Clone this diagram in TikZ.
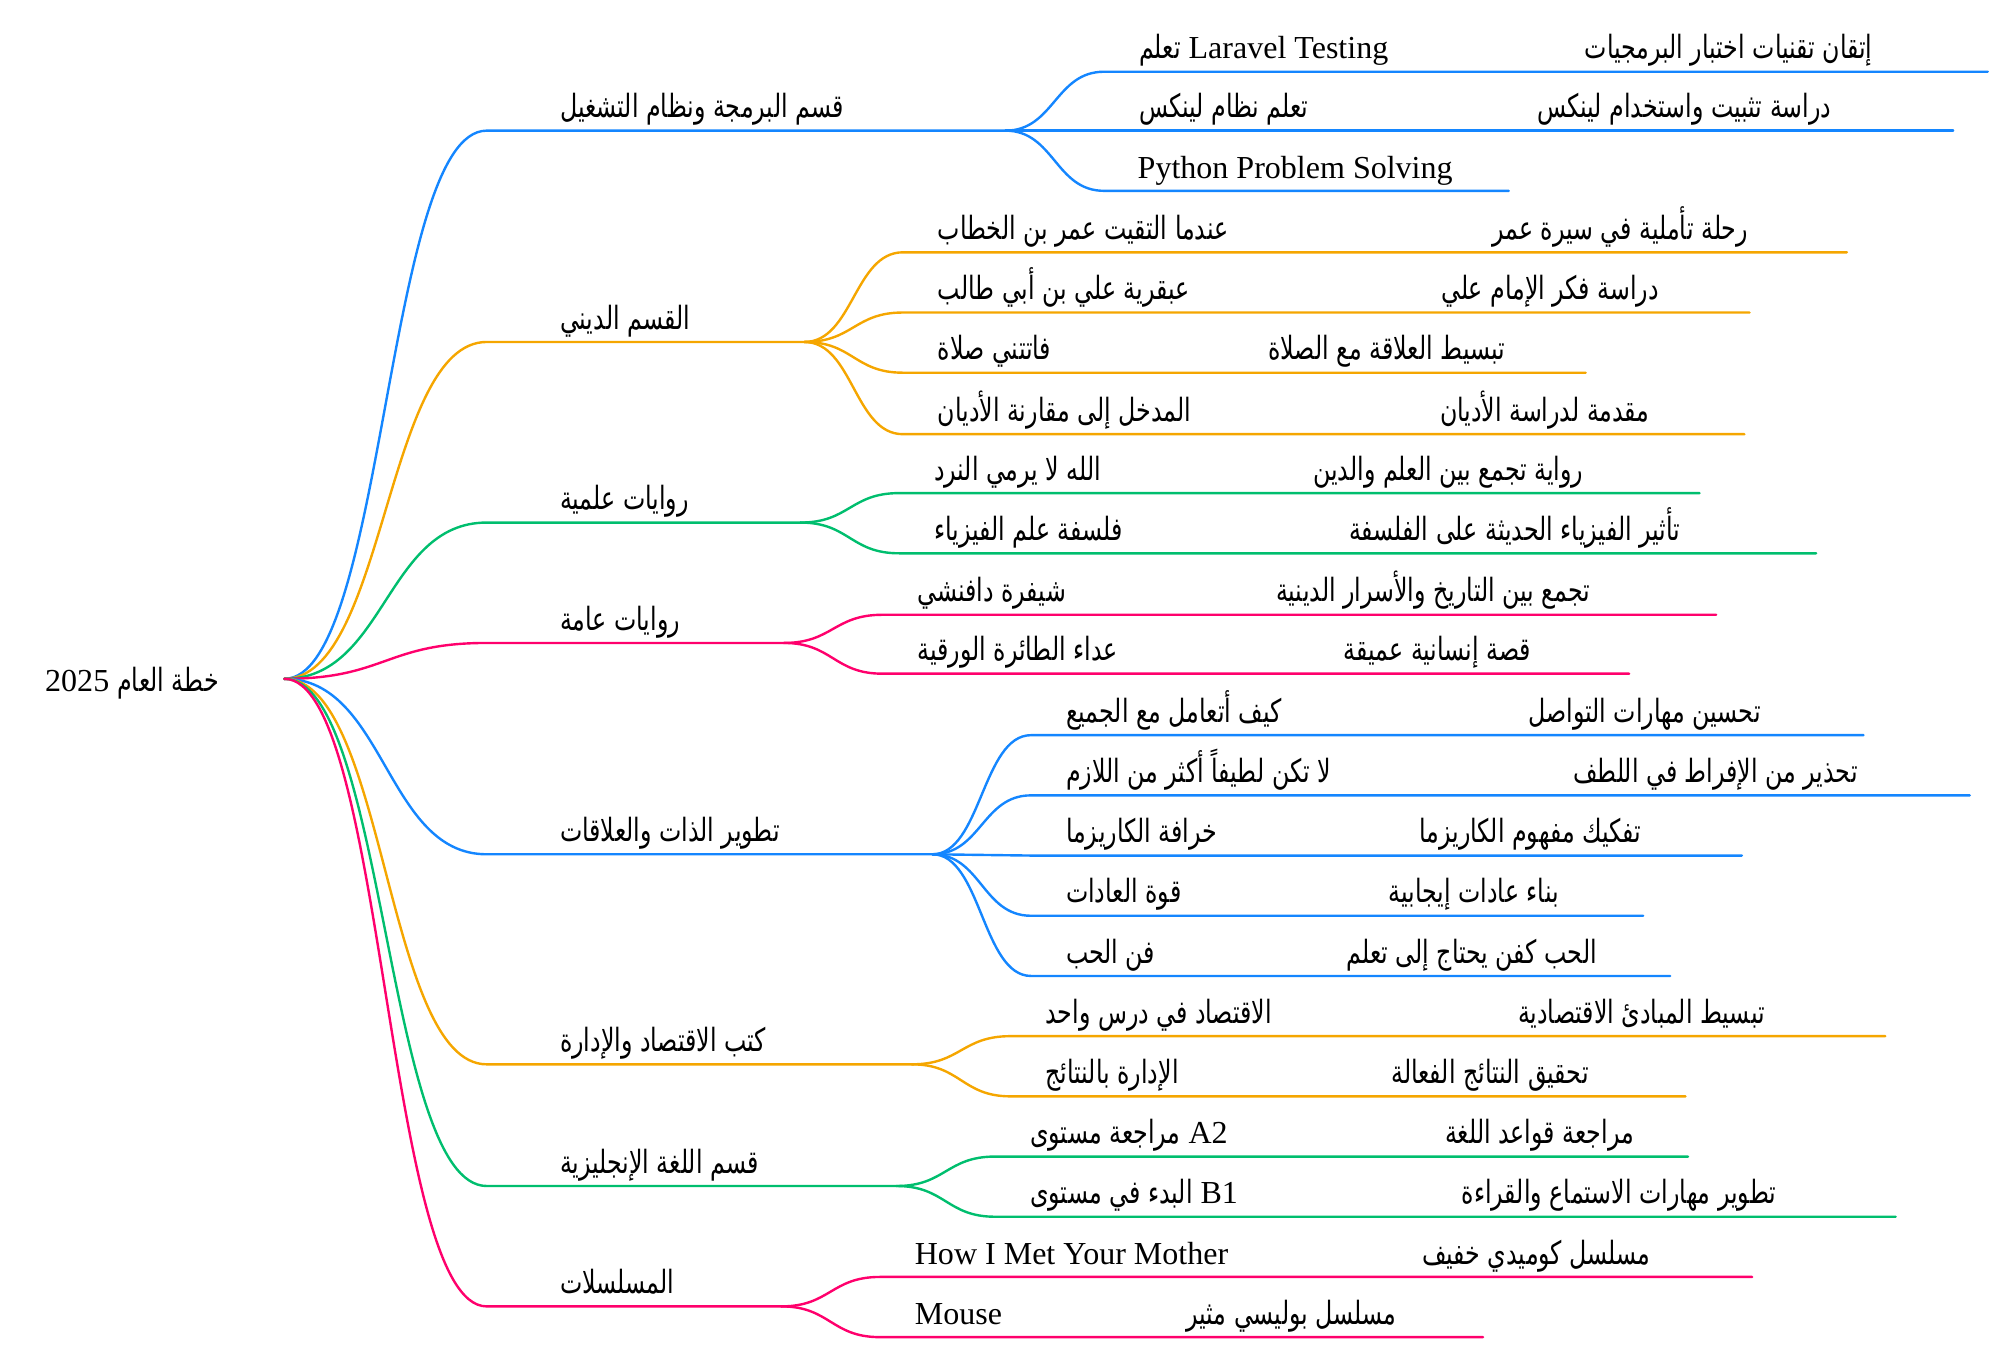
\documentclass[tikz,border=0pt]{standalone}
\usepackage{fontspec}
\setmainfont{Liberation Serif}
\newfontfamily\arabicfont[Script=Arabic,Scale=1.0,FakeStretch=0.74]{DejaVu Sans}
\TeXXeTstate=1
\usetikzlibrary{calc,positioning}
\definecolor{cblue}{RGB}{20,134,255}
\definecolor{corange}{RGB}{245,166,0}
\definecolor{cgreen}{RGB}{0,190,110}
\definecolor{cpink}{RGB}{255,0,108}
\newcommand{\ar}[1]{{\arabicfont\beginR #1\endR}}
\tikzset{
  lbl/.style={anchor=base west, inner sep=0pt, font=\fontsize{16}{18}\selectfont},
  lnk/.style={line width=1.2pt, line cap=round}
}

\begin{document}
\begin{tikzpicture}[x=0.64pt, y=-0.64pt]
\useasboundingbox (0,0) rectangle (1560,1055.6);
\coordinate (r) at (222,530);
\node[lbl] (root) at (35,540) {2025 \ar{خطة العام}};

\foreach \n/\c/\y/\f/\t/\kids in {
 prog/cblue/102/785/{\ar{قسم البرمجة ونظام التشغيل}}/{56/1552/1237/{\ar{تعلم} Laravel Testing}/{\ar{إتقان تقنيات اختبار البرمجيات}}, 102/1525/1200/{\ar{تعلم نظام لينكس}}/{\ar{دراسة تثبيت واستخدام لينكس}}},
 din/corange/267/628/{\ar{القسم الديني}}/{197/1442/1165/{\ar{عندما التقيت عمر بن الخطاب}}/{\ar{رحلة تأملية في سيرة عمر}}, 244/1366/1125/{\ar{عبقرية علي بن أبي طالب}}/{\ar{دراسة فكر الإمام علي}}, 291/1238/990/{\ar{فاتتني صلاة}}/{\ar{تبسيط العلاقة مع الصلاة}}, 339/1362/1124/{\ar{المدخل إلى مقارنة الأديان}}/{\ar{مقدمة لدراسة الأديان}}},
 sci/cgreen/408/625/{\ar{روايات علمية}}/{385/1327/1025/{\ar{الله لا يرمي النرد}}/{\ar{رواية تجمع بين العلم والدين}}, 432/1418/1053/{\ar{فلسفة علم الفيزياء}}/{\ar{تأثير الفيزياء الحديثة على الفلسفة}}},
 nov/cpink/502/612/{\ar{روايات عامة}}/{480/1340/996/{\ar{شيفرة دافنشي}}/{\ar{تجمع بين التاريخ والأسرار الدينية}}, 526/1272/1049/{\ar{عداء الطائرة الورقية}}/{\ar{قصة إنسانية عميقة}}},
 self/cblue/667/728/{\ar{تطوير الذات والعلاقات}}/{574/1455/1193/{\ar{كيف أتعامل مع الجميع}}/{\ar{تحسين مهارات التواصل}}, 621/1538/1228/{\ar{لا تكن لطيفاً أكثر من اللازم}}/{\ar{تحذير من الإفراط في اللطف}}, 668/1360/1108/{\ar{خرافة الكاريزما}}/{\ar{تفكيك مفهوم الكاريزما}}, 715/1283/1084/{\ar{قوة العادات}}/{\ar{بناء عادات إيجابية}}, 762/1304/1051/{\ar{فن الحب}}/{\ar{الحب كفن يحتاج إلى تعلم}}},
 eco/corange/831/712/{\ar{كتب الاقتصاد والإدارة}}/{809/1472/1185/{\ar{الاقتصاد في درس واحد}}/{\ar{تبسيط المبادئ الاقتصادية}}, 856/1316/1086/{\ar{الإدارة بالنتائج}}/{\ar{تحقيق النتائج الفعالة}}},
 eng/cgreen/926/700/{\ar{قسم اللغة الإنجليزية}}/{903/1318/1128/{\ar{مراجعة مستوى} A2}/{\ar{مراجعة قواعد اللغة}}, 950/1480/1141/{\ar{البدء في مستوى} B1}/{\ar{تطوير مهارات الاستماع والقراءة}}},
 ser/cpink/1020/610/{\ar{المسلسلات}}/{997/1368/1110/{How I Met Your Mother}/{\ar{مسلسل كوميدي خفيف}}, 1044/1158/926/{Mouse}/{\ar{مسلسل بوليسي مثير}}}%
}{
  \coordinate (\n-s) at (380,\y);
  \coordinate (\n) at (\f,\y);
  \draw[lnk,\c] (r) .. controls +(79,0) and +(-79,0) .. (\n-s) -- (\n);
  \node[lbl] (\n-l) at (437,\y-10) {\t};
  \foreach \v/\e/\xb/\ta/\tb in \kids {
    \coordinate (\n-\v) at (\f+77,\v);
    \coordinate (\n-\v-e) at (\e,\v);
    \draw[lnk,\c] (\n) .. controls +(38,0) and +(-38,0) .. (\n-\v) -- (\n-\v-e);
    \node[lbl] (\n-\v-a) at (\f+104,\v-10) {\ta};
    \node[lbl] (\n-\v-b) at (\xb,\v-10) {\tb};
  }
}
% python has no second label
\coordinate (py) at (862,149);
\coordinate (py-e) at (1178,149);
\draw[lnk,cblue] (prog) .. controls +(38,0) and +(-38,0) .. (py) -- (py-e);
\node[lbl] (py-a) at (888,139) {Python Problem Solving};
\end{tikzpicture}
\end{document}
